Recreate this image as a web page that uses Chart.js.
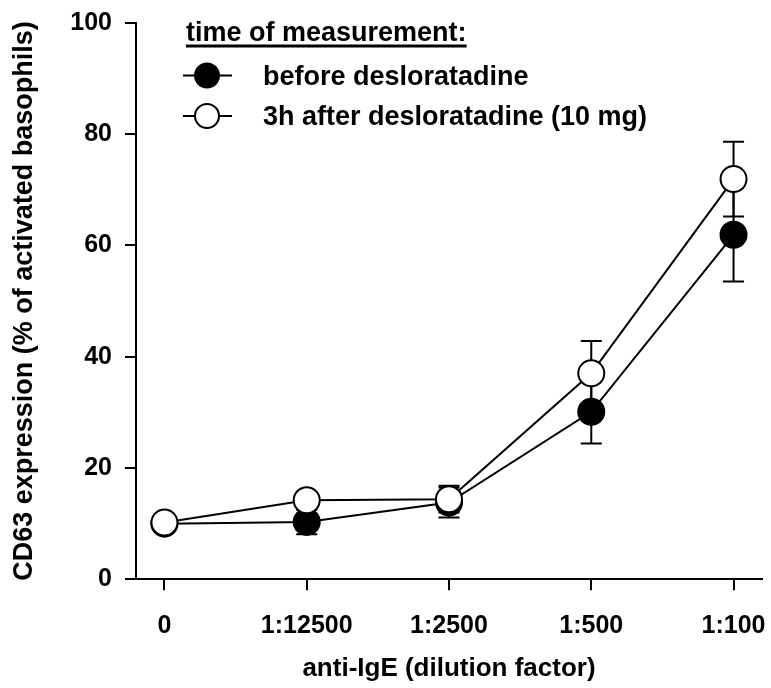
<!DOCTYPE html>
<html><head><meta charset="utf-8">
<script src="https://cdn.jsdelivr.net/npm/chart.js@4/dist/chart.umd.min.js"></script>
<style>html,body{margin:0;padding:0;background:#fff}canvas{display:block}</style>
</head><body>
<canvas id="c" width="771" height="688"></canvas>
<script>
const categories = ['0', '1:12500', '1:2500', '1:500', '1:100'];
const beforeValues = [10.0, 10.3, 13.8, 30.1, 61.9];
const beforeErrors = [0, 2.2, 2.7, 5.7, 8.4];
const afterValues = [10.2, 14.2, 14.4, 37.0, 71.9];
const afterErrors = [0, 1.5, 2.4, 5.8, 6.7];
const yTicks = [0, 20, 40, 60, 80, 100];
const seriesNames = ['before desloratadine', '3h after desloratadine (10 mg)'];
const legendTitle = 'time of measurement:';
const xTitle = 'anti-IgE (dilution factor)';
const yTitle = 'CD63 expression (% of activated basophils)';

const FONT = '"Liberation Sans", Arial, Helvetica, sans-serif';

const toPoints = vals => vals.map((v, i) => ({x: i, y: v}));

const errorBars = {
  id: 'errorBars',
  beforeDatasetsDraw(chart) {
    const ctx = chart.ctx, xs = chart.scales.x, ys = chart.scales.y;
    ctx.save();
    ctx.strokeStyle = '#000';
    ctx.lineWidth = 2;
    chart.data.datasets.forEach(ds => {
      ds.values.forEach((v, i) => {
        const e = ds.errors[i];
        if (!e) return;
        const px = xs.getPixelForValue(i);
        const top = ys.getPixelForValue(v + e);
        const bot = ys.getPixelForValue(v - e);
        ctx.beginPath();
        ctx.moveTo(px, top); ctx.lineTo(px, bot);
        ctx.moveTo(px - 10.5, top); ctx.lineTo(px + 10.5, top);
        ctx.moveTo(px - 10.5, bot); ctx.lineTo(px + 10.5, bot);
        ctx.stroke();
      });
    });
    ctx.restore();
  }
};

const customLegend = {
  id: 'customLegend',
  afterDraw(chart) {
    const ctx = chart.ctx;
    ctx.save();
    ctx.fillStyle = '#000';
    ctx.font = 'bold 27px ' + FONT;
    ctx.textAlign = 'left';
    ctx.textBaseline = 'alphabetic';
    ctx.fillText(legendTitle, 186, 41);
    const w = ctx.measureText(legendTitle).width;
    ctx.fillRect(186, 44.5, w, 3);
    const rows = [{y: 75.5, ds: chart.data.datasets[1]}, {y: 116, ds: chart.data.datasets[0]}];
    rows.forEach(r => {
      ctx.strokeStyle = '#000';
      ctx.lineWidth = 2;
      ctx.beginPath();
      ctx.moveTo(183, r.y); ctx.lineTo(232, r.y);
      ctx.stroke();
      ctx.beginPath();
      ctx.arc(207, r.y, 12, 0, Math.PI * 2);
      ctx.fillStyle = r.ds.pointBackgroundColor;
      ctx.fill();
      ctx.stroke();
      ctx.fillStyle = '#000';
      ctx.fillText(r.ds.label, 263, r.y + 9);
    });
    ctx.restore();
  }
};

new Chart(document.getElementById('c'), {
  type: 'line',
  data: {
    datasets: [
      {
        label: seriesNames[1], data: toPoints(afterValues), values: afterValues, errors: afterErrors,
        borderColor: '#000', borderWidth: 2, pointRadius: 13, pointBorderWidth: 2,
        pointBackgroundColor: '#fff', pointBorderColor: '#000', tension: 0, order: 0, clip: false
      },
      {
        label: seriesNames[0], data: toPoints(beforeValues), values: beforeValues, errors: beforeErrors,
        borderColor: '#000', borderWidth: 2, pointRadius: 13, pointBorderWidth: 2,
        pointBackgroundColor: '#000', pointBorderColor: '#000', tension: 0, order: 1, clip: false
      }
    ]
  },
  options: {
    responsive: false,
    animation: false,
    layout: {autoPadding: false, padding: {left: 0, right: 9, top: 22.7, bottom: 0}},
    plugins: {legend: {display: false}, tooltip: {enabled: false}},
    scales: {
      x: {
        type: 'linear', min: -0.2, max: 4.2,
        afterBuildTicks: s => { s.ticks = categories.map((c, i) => ({value: i})); },
        afterFit: s => { s.height = 108.7; s.paddingLeft = 0; s.paddingRight = 0; s.paddingTop = 0; s.paddingBottom = 0; },
        ticks: {
          callback: v => categories[v],
          font: {family: FONT, size: 25, weight: 'bold'}, color: '#000', padding: 21, maxRotation: 0, autoSkip: false
        },
        grid: {display: true, drawOnChartArea: false, drawTicks: true, tickLength: 11, tickColor: '#000', lineWidth: 2},
        border: {display: true, color: '#000', width: 2},
        title: {display: true, text: xTitle, color: '#000', font: {family: FONT, size: 26, weight: 'bold'}, padding: {top: 0, bottom: 4}}
      },
      y: {
        type: 'linear', min: 0, max: 100,
        afterBuildTicks: s => { s.ticks = yTicks.map(v => ({value: v})); },
        afterFit: s => { s.width = 136; s.paddingLeft = 0; s.paddingRight = 0; s.paddingTop = 0; s.paddingBottom = 0; },
        ticks: {font: {family: FONT, size: 25, weight: 'bold'}, color: '#000', padding: 13},
        grid: {display: true, drawOnChartArea: false, drawTicks: true, tickLength: 11, tickColor: '#000', lineWidth: 2},
        border: {display: true, color: '#000', width: 2},
        title: {display: true, text: yTitle, color: '#000', font: {family: FONT, size: 27, weight: 'bold'}, padding: {top: 8, bottom: 0}}
      }
    }
  },
  plugins: [errorBars, customLegend]
});
</script>
</body></html>
